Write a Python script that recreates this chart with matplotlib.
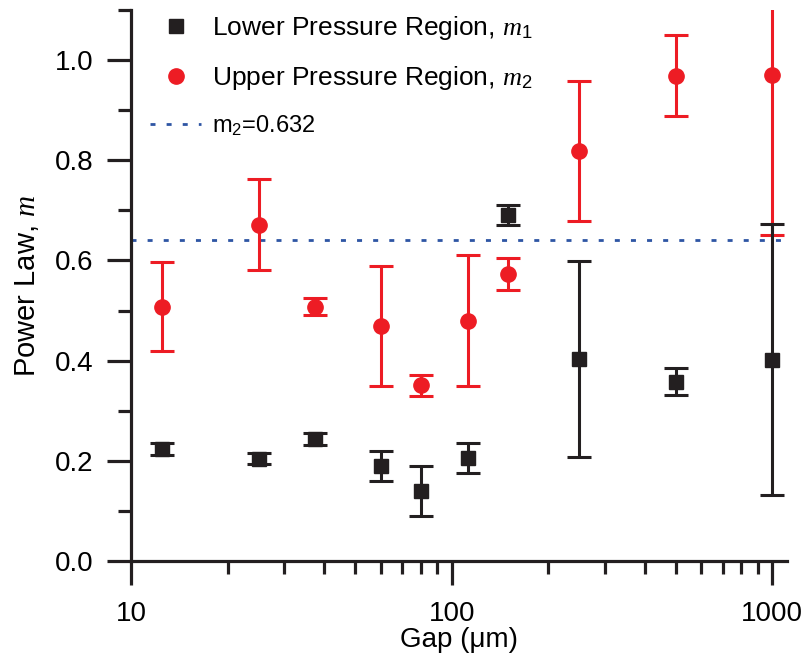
import matplotlib
matplotlib.use("Agg")
import matplotlib.pyplot as plt
from matplotlib.lines import Line2D
from matplotlib import ticker

# gap (um) and fitted power-law exponents
gap = [12.5, 25, 37.5, 60, 80, 112.5, 150, 250, 500, 1000]
m1 = [0.223, 0.204, 0.244, 0.190, 0.140, 0.206, 0.690, 0.403, 0.358, 0.402]
m1_err = [0.012, 0.011, 0.012, 0.030, 0.050, 0.030, 0.020, 0.196, 0.027, 0.270]
m2 = [0.508, 0.671, 0.508, 0.469, 0.351, 0.480, 0.572, 0.819, 0.969, 0.970]
m2_err = [0.089, 0.091, 0.017, 0.120, 0.021, 0.130, 0.032, 0.140, 0.080, 0.320]
m2_line = 0.64
x_ticks = [10, 100, 1000]
x_ticklabels = ["10", "100", "1000"]

RED = "#ED1C24"
BLACK = "#231F20"
BLUE = "#2E55A4"

plt.rcParams["font.family"] = ["Liberation Sans", "DejaVu Sans"]
plt.rcParams["mathtext.fontset"] = "custom"
plt.rcParams["mathtext.rm"] = "Liberation Sans"
plt.rcParams["mathtext.it"] = "Liberation Serif:italic"

fig = plt.figure(figsize=(8.04, 6.58), dpi=100)
ax = fig.add_axes([0.163, 0.1474, 0.816, 0.8375])

ax.errorbar(gap, m2, yerr=m2_err, fmt="o", color=RED, ms=11, elinewidth=2.2,
            capsize=8.5, capthick=2.2, zorder=3)
ax.errorbar(gap, m1, yerr=m1_err, fmt="s", color=BLACK, ms=10, elinewidth=2.2,
            capsize=8.5, capthick=2.2, zorder=4)
ax.axhline(m2_line, color=BLUE, lw=2.0, linestyle=(0, (1.8, 4.0)), zorder=2)

ax.set_xscale("log")
ax.set_xlim(10, 1112)
ax.set_ylim(0, 1.1)
ax.set_xticks(x_ticks)
ax.set_xticklabels(x_ticklabels)
ax.xaxis.set_minor_locator(ticker.LogLocator(base=10, subs=range(2, 10)))
ax.xaxis.set_minor_formatter(ticker.NullFormatter())
ax.yaxis.set_major_locator(ticker.MultipleLocator(0.2))
ax.yaxis.set_minor_locator(ticker.MultipleLocator(0.1))
ax.yaxis.set_major_formatter(ticker.FormatStrFormatter("%.1f"))

for side in ["top", "right"]:
    ax.spines[side].set_visible(False)
for side in ["left", "bottom"]:
    ax.spines[side].set_linewidth(2.3)
    ax.spines[side].set_color(BLACK)

ax.tick_params(which="major", direction="out", length=17, width=2.3,
               color=BLACK, labelsize=20, pad=10)
ax.tick_params(which="minor", direction="out", length=9.5, width=2.3, color=BLACK)
ax.tick_params(axis="x", which="major", pad=12)

ax.set_xlabel("Gap (\u03bcm)", fontsize=20, labelpad=0)
ax.set_ylabel("Power Law, $m$", fontsize=21, labelpad=10)

handles = [
    Line2D([], [], ls="none", marker="s", color=BLACK, ms=10),
    Line2D([], [], ls="none", marker="o", color=RED, ms=11),
    Line2D([], [], color=BLUE, lw=2.0, linestyle=(0, (1.8, 4.0))),
]
labels = [
    "Lower Pressure Region, $m_{\\mathit{1}}$",
    "Upper Pressure Region, $m_{\\mathit{2}}$",
    "m$_2$=0.632",
]
leg = ax.legend(handles, labels, loc="upper left", bbox_to_anchor=(0.174, 0.995),
                bbox_transform=fig.transFigure, frameon=False, fontsize=19,
                handlelength=1.9, handletextpad=0.45, labelspacing=0.84,
                borderaxespad=0)
leg.get_texts()[2].set_fontsize(17)

fig.savefig("out.png", dpi=100)
